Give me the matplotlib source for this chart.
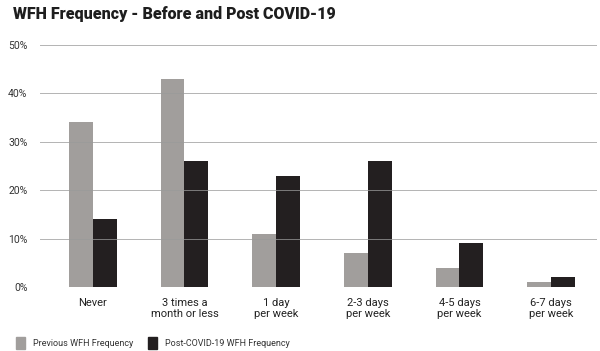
import matplotlib.pyplot as plt
import numpy as np
from matplotlib.patches import Patch

categories = ['Never', '3 times a\nmonth or less', '1 day\nper week',
              '2-3 days\nper week', '4-5 days\nper week', '6-7 days\nper week']
previous = [34, 43, 11, 7, 4, 1]
post_covid = [14, 26, 23, 26, 9, 2]
y_ticks = [0, 10, 20, 30, 40, 50]
series_names = ['Previous WFH Frequency', 'Post-COVID-19 WFH Frequency']

gray = '#a19e9c'
black = '#231f20'
narrow = ['Roboto', 'DejaVu Sans']

fig = plt.figure(figsize=(6, 3.51), dpi=100)
ax = fig.add_axes([40 / 600, 1 - 287 / 351, 557 / 600, 242 / 351])

x = np.arange(len(categories))
w = 0.26
ax.bar(x - w / 2, previous, w, color=gray, zorder=1)
ax.bar(x + w / 2, post_covid, w, color=black, zorder=1)

ax.set_xlim(-0.576, 5.5)
ax.set_ylim(0, 50)
ax.set_yticks(y_ticks)
ax.set_yticklabels([f'{t}%' for t in y_ticks], family=narrow, fontsize=7.5, color='#333333')
ax.set_xticks(x)
ax.set_xticklabels(categories, family=narrow, fontsize=8, color='#222222', linespacing=1.15)
ax.tick_params(length=0)
ax.tick_params(axis='y', pad=9)
ax.tick_params(axis='x', pad=8)
for t in y_ticks:
    ax.axhline(t, color='#9a9a9a', lw=0.7, alpha=0.75, zorder=3)
for s in ax.spines.values():
    s.set_visible(False)

fig.text(13 / 600, 1 - 14 / 351, 'WFH Frequency - Before and Post COVID-19',
         family=narrow, fontsize=11.5, fontweight='heavy', color='#1e1e1e', va='center', ha='left')

handles = [Patch(color=gray), Patch(color=black)]
leg = fig.legend(handles, series_names, loc='center left', bbox_to_anchor=(8 / 600, 1 - 343 / 351),
                 ncol=2, frameon=False, prop={'family': narrow, 'size': 6.5},
                 handlelength=1.0, handleheight=1.6, columnspacing=1.6, handletextpad=0.9)
for t in leg.get_texts():
    t.set_color('#333333')

fig.savefig('out.png', dpi=100)
